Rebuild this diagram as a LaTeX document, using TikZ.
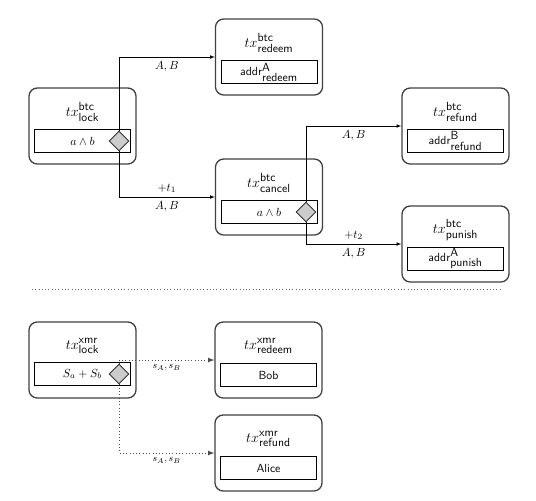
\documentclass[tikz,border=0pt]{standalone}
\usepackage{tikz}
\usetikzlibrary{shapes.geometric}
\newcommand{\txn}[2]{$\mbox{\large$tx$}^{\textsf{#1}}_{\textsf{#2}}$}
\newcommand{\addrn}[2]{addr$^{\textsf{#1}}_{\textsf{#2}}$}
\tikzset{
	outer/.style={draw=black!75, line width=1.1pt, rounded corners=7pt,
		minimum width=91pt, minimum height=64.6pt},
	inner/.style={draw, semithick, minimum width=81.6pt, minimum height=19.5pt,
		inner sep=0pt, font=\sffamily},
	title/.style={inner sep=1pt},
	lockd/.style={diamond, draw=black!80, fill=black!20, thick, aspect=1,
		minimum size=17pt, inner sep=0pt},
	lbl/.style={font=\normalsize},
	slbl/.style={font=\footnotesize}
}

\begin{document}
\begin{tikzpicture}[x=0.85pt, y=-0.85pt, >=latex]
		\useasboundingbox (0,0) rectangle (536,500);
		% btc side
		\node[outer] (lockB) at (82.5,126) {};
		\node[title] (lockBt) at (82.5,112) {\txn{btc}{lock}};
		\node[inner] (lockBi) at (82.5,141) {$a \wedge b$};
		\node[lockd] (dLB) at (119,141) {};
		\node[outer] (redeemB) at (269,57) {};
		\node[title] (redeemBt) at (269,43) {\txn{btc}{redeem}};
		\node[inner] (redeemBi) at (269,72) {\addrn{A}{redeem}};
		\node[outer] (cancelB) at (269,197) {};
		\node[title] (cancelBt) at (269,183) {\txn{btc}{cancel}};
		\node[inner] (cancelBi) at (269,212) {$a \wedge b$};
		\node[lockd] (dCB) at (306,212) {};
		\node[outer] (refundB) at (455.5,126) {};
		\node[title] (refundBt) at (455.5,112) {\txn{btc}{refund}};
		\node[inner] (refundBi) at (455.5,141) {\addrn{B}{refund}};
		\node[outer] (punishB) at (455.5,244) {};
		\node[title] (punishBt) at (455.5,230) {\txn{btc}{punish}};
		\node[inner] (punishBi) at (455.5,259) {\addrn{A}{punish}};
		\draw[->] (dLB.north) |- node[lbl, pos=0.75, below] {$A, B$} (redeemB.west);
		\draw[->] (dLB.south) |- node[lbl, pos=0.75, above] {$+t_1$}
			node[lbl, pos=0.75, below] {$A, B$} (cancelB.west);
		\draw[->] (dCB.north) |- node[lbl, pos=0.75, below] {$A, B$} (refundB.west);
		\draw[->] (dCB.south) |- node[lbl, pos=0.75, above] {$+t_2$}
			node[lbl, pos=0.75, below] {$A, B$} (punishB.west);
		% separator
		\coordinate (sepL) at (32,289);
		\coordinate (sepR) at (502,289);
		\draw[dotted, black!60, thick] (sepL) -- (sepR);
		% xmr side
		\node[outer] (lockX) at (82.5,360) {};
		\node[title] (lockXt) at (82.5,346) {\txn{xmr}{lock}};
		\node[inner] (lockXi) at (82.5,374) {$S_a + S_b$};
		\node[lockd] (dLX) at (119,374) {};
		\node[outer] (redeemX) at (268.5,360) {};
		\node[title] (redeemXt) at (268.5,346) {\txn{xmr}{redeem}};
		\node[inner] (redeemXi) at (268.5,375) {Bob};
		\node[outer] (refundX) at (268.5,453) {};
		\node[title] (refundXt) at (268.5,439) {\txn{xmr}{refund}};
		\node[inner] (refundXi) at (268.5,468) {Alice};
		\draw[->, dotted, thick, black!70] (dLX.north) |- node[slbl, black, pos=0.75, below] {$s_A, s_B$} (redeemX.west);
		\draw[->, dotted, thick, black!70] (dLX.south) |- node[slbl, black, pos=0.75, below] {$s_A, s_B$} (refundX.west);
\end{tikzpicture}
\end{document}
